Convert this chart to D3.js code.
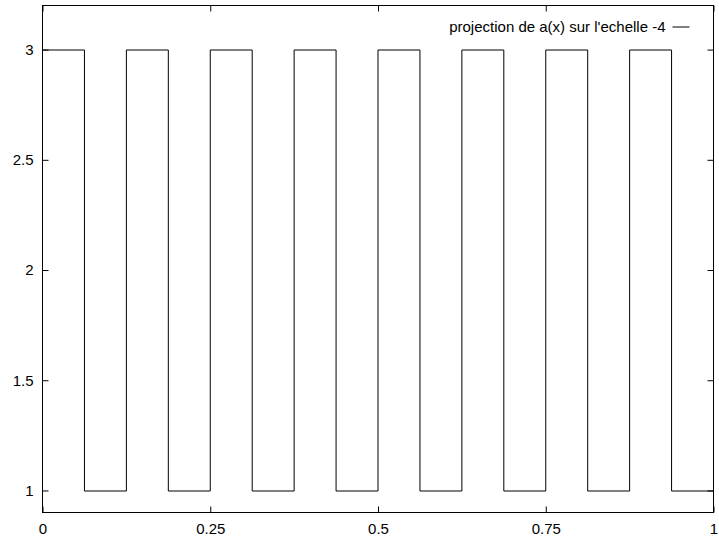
<!DOCTYPE html>
<html>
<head>
<meta charset="utf-8">
<script src="https://cdn.jsdelivr.net/npm/d3@7"></script>
<style>
  body { margin: 0; background: #fff; }
  text { font-family: "Liberation Sans", Arial, sans-serif; font-size: 15px; fill: #000; }
</style>
</head>
<body>
<div id="chart"></div>
<script>
// step edges and the level held from each edge to the next
var stepX = [0, 0.0625, 0.125, 0.1875, 0.25, 0.3125, 0.375, 0.4375, 0.5,
             0.5625, 0.625, 0.6875, 0.75, 0.8125, 0.875, 0.9375, 1];
var stepY = [3, 1, 3, 1, 3, 1, 3, 1, 3, 1, 3, 1, 3, 1, 3, 1, 1];
var xTicks = [0, 0.25, 0.5, 0.75, 1];
var xTickLabels = ["0", "0.25", "0.5", "0.75", "1"];
var yTicks = [1, 1.5, 2, 2.5, 3];
var yTickLabels = ["1", "1.5", "2", "2.5", "3"];
var seriesName = "projection de a(x) sur l'echelle -4";

var svgWidth = 719, svgHeight = 542;
var margin = { top: 5.5, right: 5.5, bottom: 29.5, left: 42.5 };
var width = svgWidth - margin.left - margin.right;
var height = svgHeight - margin.top - margin.bottom;

var svg = d3.select("#chart").append("svg")
  .attr("width", svgWidth)
  .attr("height", svgHeight);

var chartGroup = svg.append("g")
  .attr("transform", `translate(${margin.left}, ${margin.top})`);

var x = d3.scaleLinear().domain([0, 1]).range([0, width]);
var y = d3.scaleLinear().domain([0.9, 3.2]).range([height, 0]);

var tickLen = 6;

// axes with inward ticks, mirrored on the opposite sides
var axisStyle = function(g) {
  g.select(".domain").remove();
  g.selectAll(".tick line").attr("stroke", "#000");
};

chartGroup.append("g")
  .attr("transform", `translate(0, ${height})`)
  .call(d3.axisBottom(x).tickValues(xTicks).tickSize(-tickLen).tickPadding(11)
    .tickFormat((d, i) => xTickLabels[i]))
  .call(axisStyle);

chartGroup.append("g")
  .call(d3.axisTop(x).tickValues(xTicks).tickSize(-tickLen).tickFormat(""))
  .call(axisStyle);

chartGroup.append("g")
  .call(d3.axisLeft(y).tickValues(yTicks).tickSize(-tickLen).tickPadding(9)
    .tickFormat((d, i) => yTickLabels[i]))
  .call(axisStyle);

chartGroup.append("g")
  .attr("transform", `translate(${width}, 0)`)
  .call(d3.axisRight(y).tickValues(yTicks).tickSize(-tickLen).tickFormat(""))
  .call(axisStyle);

chartGroup.selectAll(".tick text")
  .attr("font-size", null).attr("font-family", null).attr("fill", "#000");

// the step curve
var points = stepX.map((d, i) => ({ x: d, y: stepY[i] }));
var line = d3.line()
  .x(d => x(d.x))
  .y(d => Math.round(y(d.y)) + 0.5)
  .curve(d3.curveStepAfter);

chartGroup.append("path")
  .datum(points)
  .attr("d", line)
  .attr("fill", "none")
  .attr("stroke", "#000")
  .attr("stroke-width", 1);

// plot frame
chartGroup.append("rect")
  .attr("width", width)
  .attr("height", height)
  .attr("fill", "none")
  .attr("stroke", "#000")
  .attr("stroke-width", 1);

// key
var legend = chartGroup.append("g")
  .attr("transform", `translate(${width - 41}, 21)`);
legend.append("text")
  .attr("x", -7)
  .attr("y", 5)
  .attr("text-anchor", "end")
  .text(seriesName);
legend.append("line")
  .attr("x1", 0).attr("x2", 17)
  .attr("y1", 0.5).attr("y2", 0.5)
  .attr("stroke", "#000");
</script>
</body>
</html>
